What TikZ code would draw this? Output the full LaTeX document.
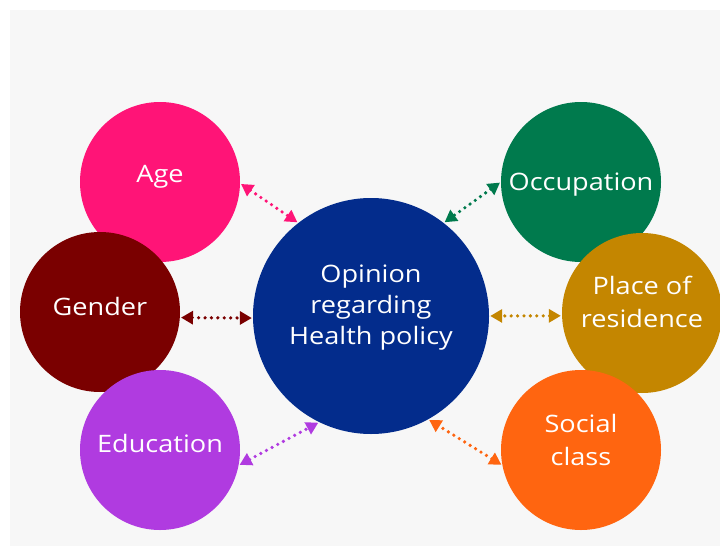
\documentclass[tikz,border=0pt]{standalone}
\usepackage{fontspec}
\setmainfont{Open Sans}[FakeStretch=1.13]
\usetikzlibrary{arrows.meta}
\definecolor{bgc}{HTML}{F7F7F7}
\definecolor{cage}{HTML}{FF1477}
\definecolor{cgender}{HTML}{7A0000}
\definecolor{cedu}{HTML}{B03BE0}
\definecolor{ccenter}{HTML}{032C8C}
\definecolor{cocc}{HTML}{007A4D}
\definecolor{cplace}{HTML}{C48600}
\definecolor{csocial}{HTML}{FF6510}
\tikzset{
  factor/.style={circle, fill=#1, minimum size=160pt, inner sep=0pt, text=white,
    font=\fontsize{24}{33}\selectfont, align=center, text height=17pt},
  hub/.style={circle, fill=ccenter, minimum size=236pt, inner sep=0pt, text=white,
    font=\fontsize{24}{31}\selectfont, align=center},
  link/.style={draw=#1, line width=3.6pt, line cap=round, dash pattern=on 0pt off 6.4pt,
    {Triangle[length=12pt,width=13pt,color=#1]}-{Triangle[length=12pt,width=13pt,color=#1]}, shorten <=1pt, shorten >=1pt}
}
\begin{document}
\begin{tikzpicture}[x=1pt,y=-1pt]
\useasboundingbox (0,0) rectangle (720,546);
\fill[bgc] (10,10) rectangle (720,546);
\node[hub, text height=79pt, text depth=23pt] (hub) at (371,316) {Opinion\\regarding\\Health policy};
\node[factor=cage, text depth=16pt] (age) at (160,182) {Age};
\node[factor=cgender, text depth=10pt] (gender) at (100,312) {Gender};
\node[factor=cedu, text depth=12pt] (edu) at (160,450) {Education};
\node[factor=cocc, text depth=1pt] (occ) at (581,182) {Occupation};
\node[factor=cplace, text height=50pt, text depth=22pt] (place) at (642,313) {Place of\\residence};
\node[factor=csocial, text height=50pt, text depth=20pt] (social) at (581,450) {Social\\class};
\draw[link=cage] (age.-1.5) -- (hub.128);
\draw[link=cgender] (gender.-4) -- (hub.181);
\draw[link=cedu] (edu.-11.6) -- (hub.-116);
\draw[link=cocc] (occ.180) -- (hub.52.5);
\draw[link=cplace] (place.182) -- (hub.0);
\draw[link=csocial] (social.191.5) -- (hub.-61.7);
\end{tikzpicture}
\end{document}
